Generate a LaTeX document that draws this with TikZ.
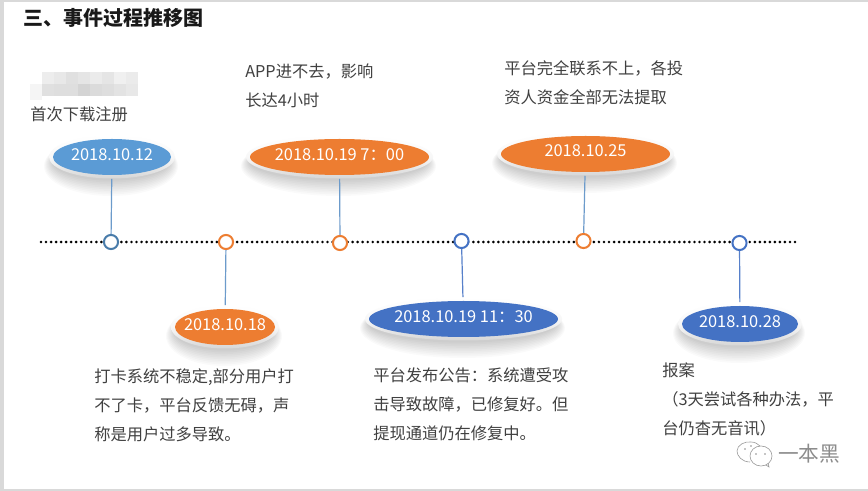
\documentclass[tikz,border=0pt]{standalone}
\usepackage{fontspec}
\setmainfont{Noto Sans CJK SC}
\usetikzlibrary{shapes.geometric}
\definecolor{cblue}{HTML}{5B9BD5}
\definecolor{corange}{HTML}{ED7D31}
\definecolor{cindigo}{HTML}{4472C4}
\definecolor{ctext}{HTML}{404040}
\definecolor{cframe}{HTML}{D9D9D9}
\definecolor{cline}{HTML}{6C9BCB}
\tikzset{
  bodytext/.style={anchor=north west,inner sep=0pt,align=left,text=ctext,font=\fontsize{12.2}{21.75}\selectfont},
  datetext/.style={inner sep=0pt,text=white,font=\fontsize{12.3}{14}\selectfont},
  marker/.style={circle,draw=#1,fill=white,line width=1.5pt,minimum size=10.6pt,inner sep=0pt},
  connector/.style={draw=cline,line width=.9pt},
  mosaic/.style={draw=none},
  wm/.style={draw=black!40,line width=.45pt}
}
% #1 name, #2 x, #3 y, #4 inner half width, #5 inner half height, #6 colour, #7 text, #8 text dy
\newcommand{\evtshape}[8]{%
  \foreach \k in {0,...,9}{
    \fill[black,opacity=.02] (#2-1,#3+9-\k*.5) ellipse [x radius=#4+8-\k*.9,y radius=#5+12-\k*1.2];
  }
  \node[ellipse,inner sep=0pt,minimum width={(2*#4+8)*.75pt},minimum height={(2*#5+7)*.75pt},top color=white,bottom color=black!16,middle color=white!97!black] (#1) at (#2,#3) {};
  \node[ellipse,inner sep=0pt,fill=#6,minimum width={2*#4*.75pt},minimum height={2*#5*.75pt}] (#1in) at (#2,#3) {};
  \node[datetext] (#1txt) at (#2,#3+#8) {#7};
}
\begin{document}
\begin{tikzpicture}[x=.75pt,y=-.75pt]
\useasboundingbox (0,0) rectangle (868,491);
\fill[cframe] (0,0) rectangle (868,491);
\fill[white] (3.5,2.5) rectangle (868,489);
% blurred patch
\foreach \i/\g in {0/93,1/91,2/88,3/90,4/92,5/90,6/94,7/92}{ \fill[black!\the\numexpr100-\g\relax,mosaic] (42+\i*12,72) rectangle (54+\i*12,84); }
\foreach \i/\g in {0/88,1/87,2/87,3/83,4/86,5/87,6/89,7/91}{ \fill[black!\the\numexpr100-\g\relax,mosaic] (42+\i*12,84) rectangle (54+\i*12,96); }
\fill[black!4,mosaic] (30,84) rectangle (42,100);
% title
\node[anchor=west,inner sep=0pt,text=black!90,font=\fontsize{15}{18}\selectfont\bfseries] (title) at (23,18) {三、事件过程推移图};
% timeline
\coordinate (linestart) at (41,242);
\coordinate (lineend) at (800,242);
\draw[black,line width=2.2pt,line cap=round,dash pattern=on 0pt off 3.77pt] (linestart) -- (lineend);
% events
\evtshape{ea}{112}{157}{59}{18}{cblue}{2018.10.12}{-2}
\evtshape{eb}{339.5}{157}{89.5}{18}{corange}{2018.10.19 7：00}{-2}
\evtshape{ec}{585.5}{154}{84.5}{18}{corange}{2018.10.25}{-3}
\evtshape{ed}{225}{327}{50}{18}{corange}{2018.10.18}{-2}
\evtshape{ee}{463.5}{319}{94.5}{18}{cindigo}{2018.10.19 11：30}{-2}
\evtshape{ef}{740}{324}{58}{18}{cindigo}{2018.10.28}{-2}
% markers
\node[marker=cblue!80!black] (ma) at (111,242) {};
\node[marker=corange] (mb) at (226,242) {};
\node[marker=corange] (mc) at (340,243) {};
\node[marker=cindigo] (md) at (461.5,241) {};
\node[marker=corange] (me) at (583.5,241) {};
\node[marker=cindigo] (mf) at (739.5,243) {};
% connectors
\draw[connector] (ea) -- (ma);
\draw[connector] (eb) -- (mc);
\draw[connector] (ec) -- (me);
\draw[connector] (ed) -- (mb);
\draw[connector,draw=cindigo!90] (ee) -- (md);
\draw[connector,draw=cindigo!90] (ef) -- (mf);
% body text
\node[bodytext] (ta) at (30,107) {首次下载注册};
\node[bodytext] (tb) at (245,64) {APP进不去，影响\\长达4小时};
\node[bodytext] (tc) at (504,60) {平台完全联系不上，各投\\资人资金全部无法提取};
\node[bodytext] (td) at (94,368) {打卡系统不稳定,部分用户打\\不了卡，平台反馈无碍，声\\称是用户过多导致。};
\node[bodytext] (te) at (373,368) {平台发布公告：系统遭受攻\\击导致故障，已修复好。但\\提现通道仍在修复中。};
\node[bodytext] (tf) at (662,362) {报案\\（3天尝试各种办法，平\\台仍杳无音讯）};
% watermark
\draw[wm] (750,462) .. controls (742,462) and (737,456) .. (737,451) .. controls (737,445) and (745,441) .. (751,442) .. controls (755,442) and (758,444) .. (760,446);
\draw[wm] (761,456) ellipse [x radius=11,y radius=10];
\draw[wm] (766,465) -- (769,467) -- (768,463);
\fill[black!45] (745,449) circle (.9);
\fill[black!45] (751,446) circle (.9);
\fill[black!45] (756,454) circle (.9);
\fill[black!45] (765,454) circle (.9);
\node[anchor=west,inner sep=0pt,text=black!45,font=\fontsize{15.5}{18}\selectfont] (wmtext) at (778,454) {一本黑};
\end{tikzpicture}
\end{document}
